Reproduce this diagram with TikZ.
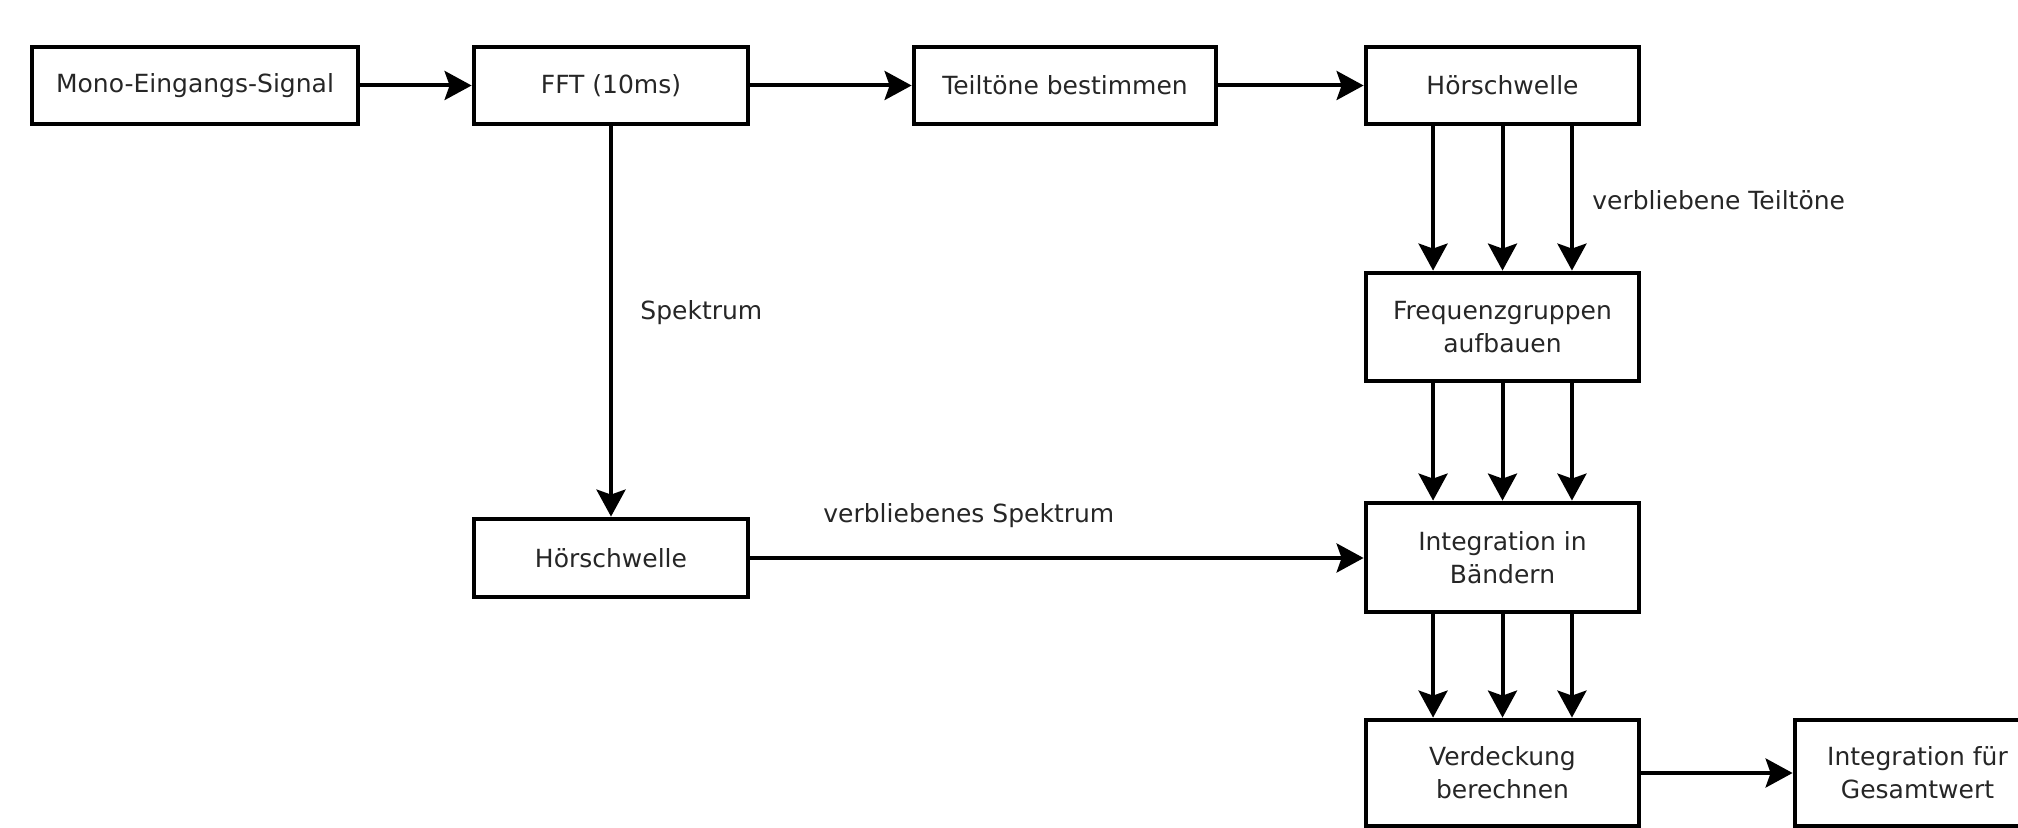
\documentclass[tikz,border=0pt]{standalone}
\usepackage{fontspec}
\setmainfont{DejaVu Sans}
\usetikzlibrary{arrows.meta,calc}
\begin{document}
\begin{tikzpicture}[x=0.5pt,y=-0.5pt,
  box/.style={draw=black, line width=2.4pt, inner sep=0pt, align=center,
    font=\fontsize{12.5}{16.5}\selectfont, text=black!85},
  lbl/.style={inner sep=0pt, font=\fontsize{12.5}{16.5}\selectfont, text=black!85, anchor=west},
  conn/.style={line width=2pt, -{Stealth[length=13.5pt,width=14.5pt,inset=2.5pt]}}
]
\useasboundingbox (0,0) rectangle (2018,828);

\node[box, minimum width=163pt, minimum height=38.5pt] (mono) at (195,85.5) {Mono-Eingangs-Signal};
\node[box, minimum width=137pt, minimum height=38.5pt] (fft) at (611,85.5) {FFT (10ms)};
\node[box, minimum width=151pt, minimum height=38.5pt] (teil) at (1065,85.5) {Teiltöne bestimmen};
\node[box, minimum width=136.5pt, minimum height=38.5pt] (hs1) at (1502.5,85.5) {Hörschwelle};
\node[box, minimum width=136.5pt, minimum height=54pt] (freq) at (1502.5,327) {Frequenzgruppen\\aufbauen};
\node[box, minimum width=136.5pt, minimum height=54.5pt] (integ) at (1502.5,557.5) {Integration in\\Bändern};
\node[box, minimum width=136.5pt, minimum height=53pt] (verd) at (1502.5,773) {Verdeckung\\berechnen};
\node[box, minimum width=122.5pt, minimum height=53pt] (ges) at (1917.5,773) {Integration für\\Gesamtwert};
\node[box, minimum width=137pt, minimum height=39pt] (hs2) at (611,558) {Hörschwelle};

\draw[conn] (mono.east) -- (mono.east -| fft.west);
\draw[conn] (fft.east) -- (fft.east -| teil.west);
\draw[conn] (teil.east) -- (teil.east -| hs1.west);
\draw[conn] (fft.south) -- (hs2.north);
\draw[conn] (hs2.east) -- (hs2.east -| integ.west);
\draw[conn] (verd.east) -- (verd.east -| ges.west);

\foreach \f in {0.25,0.5,0.75}{
  \draw[conn] ($(hs1.south west)!\f!(hs1.south east)$) -- ($(freq.north west)!\f!(freq.north east)$);
  \draw[conn] ($(freq.south west)!\f!(freq.south east)$) -- ($(integ.north west)!\f!(integ.north east)$);
  \draw[conn] ($(integ.south west)!\f!(integ.south east)$) -- ($(verd.north west)!\f!(verd.north east)$);
}

\node[lbl] (l1) at (1592,200) {verbliebene Teiltöne};
\node[lbl] (l2) at (640,313) {Spektrum};
\node[lbl] (l3) at (823,516) {verbliebenes Spektrum};
\end{tikzpicture}
\end{document}
